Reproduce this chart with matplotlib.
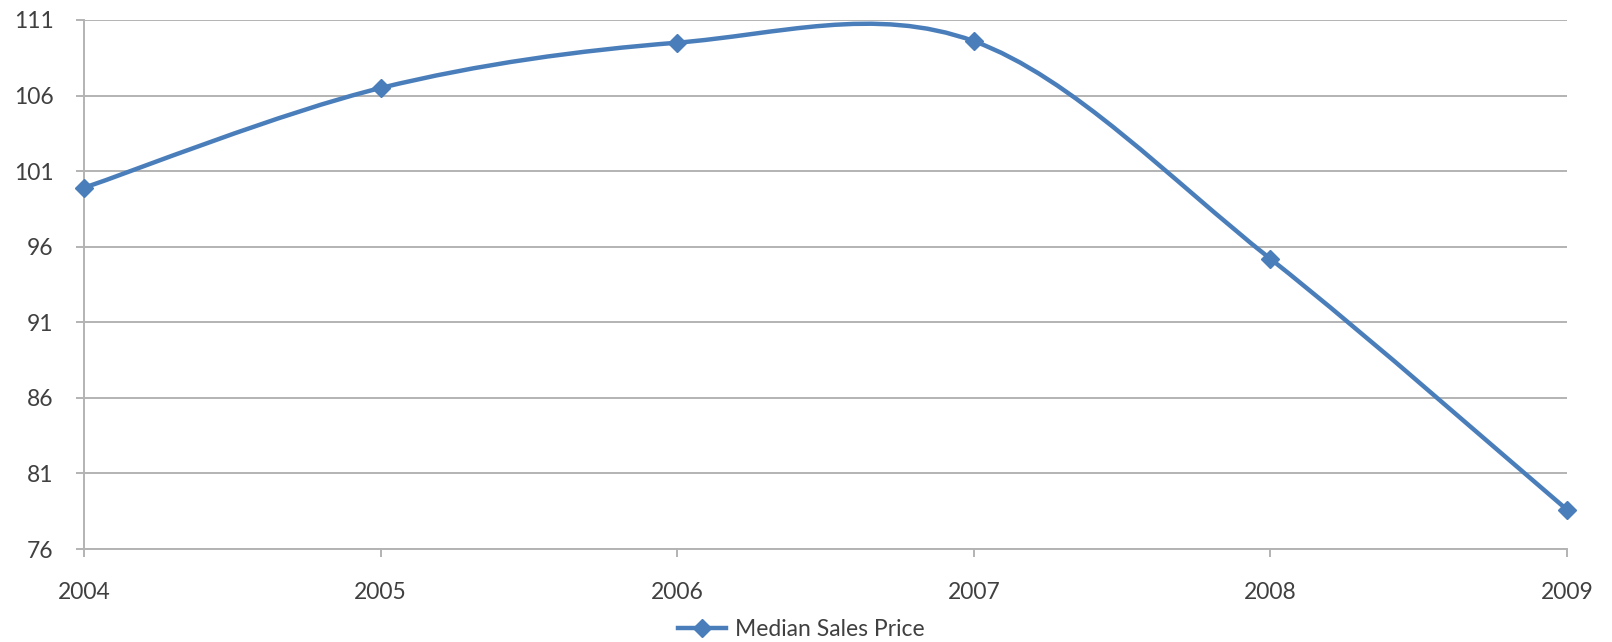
import matplotlib
matplotlib.use("Agg")
import matplotlib.pyplot as plt
from matplotlib.path import Path
from matplotlib.patches import PathPatch
from matplotlib.lines import Line2D
import numpy as np

years = [2004, 2005, 2006, 2007, 2008, 2009]
median_price = [99.9, 106.5, 109.5, 109.6, 95.2, 78.6]
y_ticks = [76, 81, 86, 91, 96, 101, 106, 111]
series_label = "Median Sales Price"

line_color = "#4A7EBB"
grid_color = "#B3B3B3"
text_color = "#404040"

plt.rcParams["font.family"] = ["Lato", "DejaVu Sans"]

fig = plt.figure(figsize=(16.12, 6.42), dpi=100)
ax = fig.add_axes([84 / 1612, 1 - 549 / 642, (1567 - 84) / 1612, (549 - 20) / 642])

# Smoothed line: cubic Bezier segments with Catmull-Rom control points
x = np.asarray(years, dtype=float)
y = np.asarray(median_price, dtype=float)
verts = [(x[0], y[0])]
codes = [Path.MOVETO]
n = len(x)
for i in range(n - 1):
    x0, y0 = (x[i - 1], y[i - 1]) if i > 0 else (x[i], y[i])
    x3, y3 = (x[i + 2], y[i + 2]) if i + 2 < n else (x[i + 1], y[i + 1])
    c1 = (x[i] + (x[i + 1] - x0) / 6, y[i] + (y[i + 1] - y0) / 6)
    c2 = (x[i + 1] - (x3 - x[i]) / 6, y[i + 1] - (y3 - y[i]) / 6)
    verts += [c1, c2, (x[i + 1], y[i + 1])]
    codes += [Path.CURVE4] * 3
curve = PathPatch(Path(verts, codes), facecolor="none", edgecolor=line_color,
                  linewidth=3.2, capstyle="round", joinstyle="round", zorder=3,
                  clip_on=False)
ax.add_patch(curve)
ax.plot(years, median_price, linestyle="none", marker="D", markersize=9.5,
        color=line_color, zorder=4, clip_on=False)

ax.set_xlim(2004, 2009)
ax.set_ylim(76, 111)
ax.set_yticks(y_ticks)
ax.set_xticks(years)
ax.set_xticklabels([str(v) for v in years])

ax.grid(axis="y", color=grid_color, linewidth=1.4)
ax.set_axisbelow(True)
for s in ("top", "right"):
    ax.spines[s].set_visible(False)
for s in ("left", "bottom"):
    ax.spines[s].set_color(grid_color)
    ax.spines[s].set_linewidth(1.4)

ax.tick_params(axis="y", length=6, width=1.4, color=grid_color, pad=16,
               labelsize=16.5, labelcolor=text_color)
ax.tick_params(axis="x", length=6, width=1.4, color=grid_color, pad=18,
               labelsize=16.5, labelcolor=text_color)

handle = Line2D([], [], color=line_color, linewidth=3.2, marker="D",
                markersize=9.5)
fig.legend([handle], [series_label], loc="center", bbox_to_anchor=(0.497, 1 - 630 / 642),
           frameon=False, fontsize=16.5, labelcolor=text_color, handlelength=2.1,
           handletextpad=0.4, borderaxespad=0, borderpad=0)

fig.savefig("out.png", dpi=100)
